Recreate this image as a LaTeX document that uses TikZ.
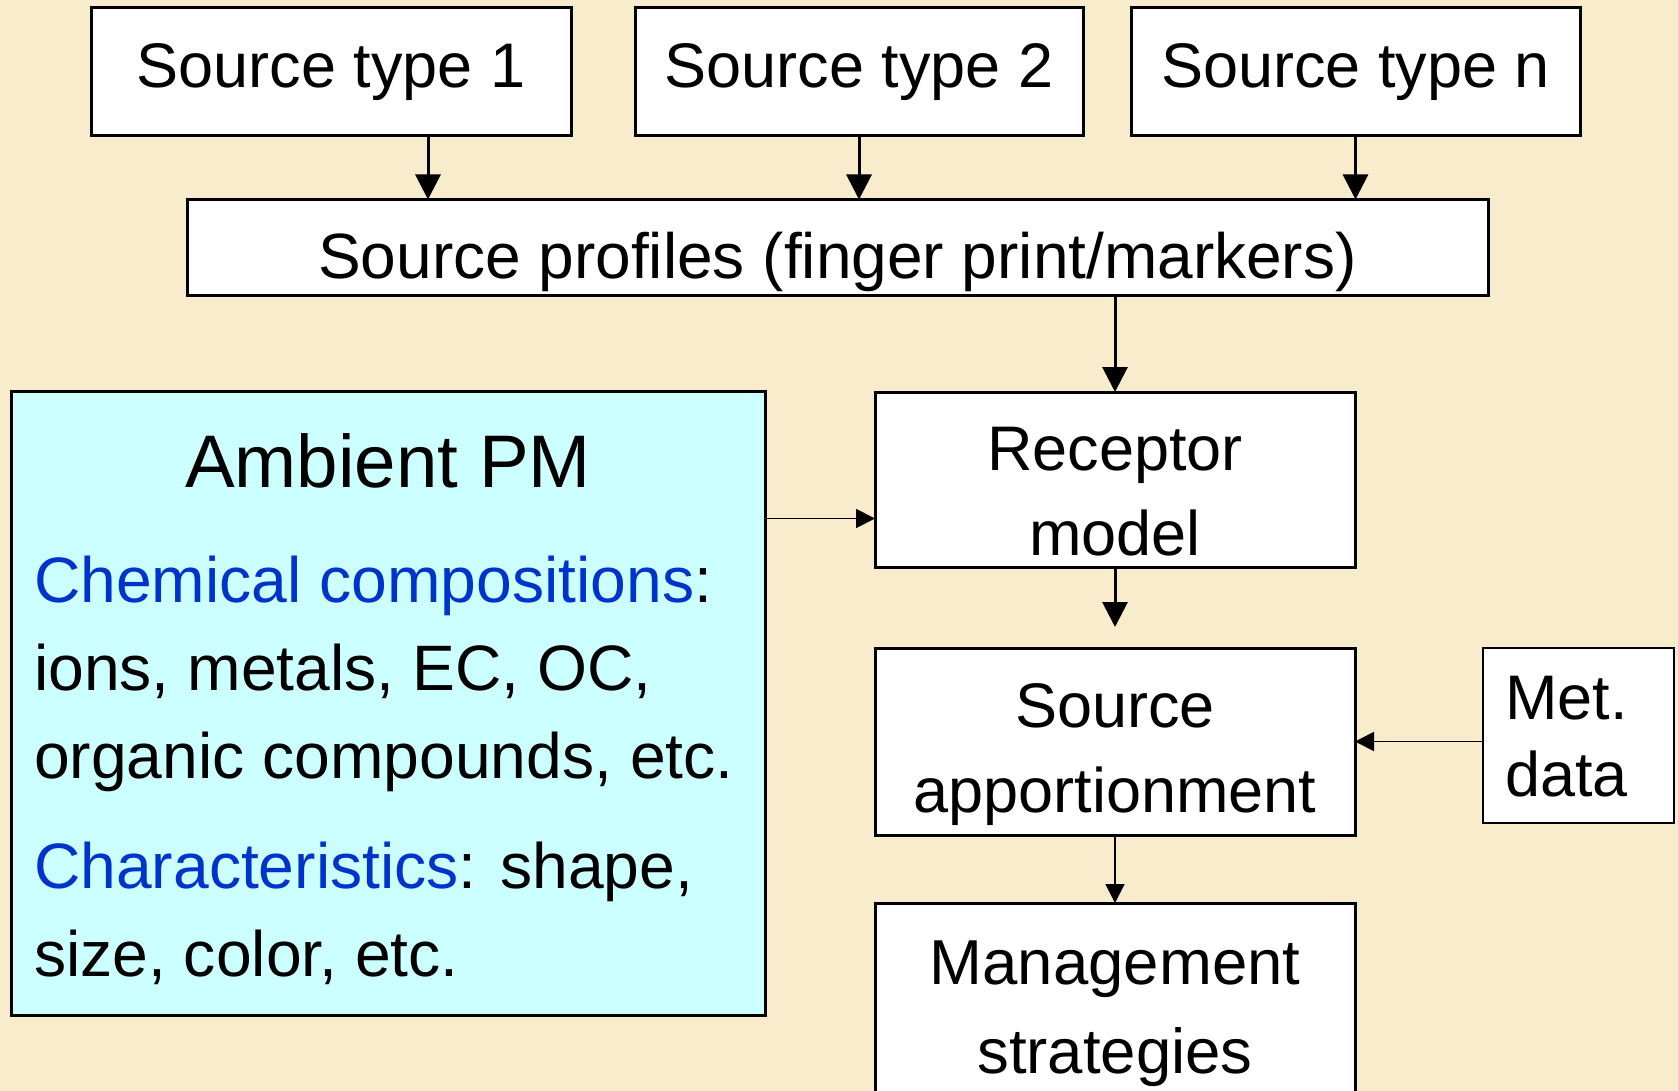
\documentclass[tikz,border=0pt]{standalone}
\usepackage{fontspec}
\setmainfont{Liberation Sans}
\usetikzlibrary{arrows.meta}
\definecolor{parchment}{RGB}{249,236,205}
\definecolor{pmcyan}{RGB}{204,255,255}
\definecolor{pmblue}{RGB}{0,51,204}

\begin{document}
\begin{tikzpicture}[x=1pt, y=-1pt,
  flowbox/.style={draw, fill=white, line width=3pt, inner sep=0pt, outer sep=0pt},
  txt/.style={inner sep=0pt, anchor=base, align=center, font=\fontsize{63}{85}\selectfont},
  bigarrow/.style={-{Triangle[width=25pt,length=25pt]}, line width=3pt},
  smallarrow/.style={-{Triangle[width=19pt,length=19pt]}, line width=1.8pt}]

\useasboundingbox (0,0) rectangle (1678,1091);
\clip (0,0) rectangle (1678,1091);
\fill[parchment] (0,0) rectangle (1678,1091);

% top row
\node[flowbox, minimum width=480pt, minimum height=128pt] (src1) at (331,72) {};
\node[flowbox, minimum width=448pt, minimum height=128pt] (src2) at (859,72) {};
\node[flowbox, minimum width=449pt, minimum height=128pt] (srcn) at (1355.5,72) {};
\node[txt] (src1txt) at (331,88) {Source type 1};
\node[txt] (src2txt) at (859,88) {Source type 2};
\node[txt] (srcntxt) at (1355.5,88) {Source type n};

\node[flowbox, minimum width=1301pt, minimum height=96pt] (prof) at (837.5,247.5) {};
\node[txt, font=\fontsize{64}{85}\selectfont] (proftxt) at (837.5,279) {Source profiles (finger print/markers)};

% right column (base = last line)
\node[flowbox, minimum width=480pt, minimum height=175pt] (rec) at (1115,479.5) {};
\node[txt] (rectxt) at (1115,555.7) {Receptor\\model};

\node[flowbox, minimum width=480pt, minimum height=187pt] (app) at (1115,741.5) {};
\node[txt] (apptxt) at (1115,812.7) {Source\\apportionment};

\node[flowbox, minimum width=480pt, minimum height=260pt] (mgmt) at (1115,1033) {};
\node[txt, font=\fontsize{63.5}{89}\selectfont] (mgmttxt) at (1115,1073) {Management\\strategies};

\node[flowbox, line width=2pt, minimum width=191pt, minimum height=175pt] (met) at (1578.5,735.5) {};
\node[txt, anchor=base west, align=left, font=\fontsize{63}{77}\selectfont] (mettxt) at (1505,796.7) {Met.\\data};

% ambient PM
\node[flowbox, fill=pmcyan, minimum width=754pt, minimum height=624pt] (amb) at (388,703.5) {};
\node[txt, font=\fontsize{74.5}{88}\selectfont] (ambtitle) at (388,487) {Ambient PM};
\node[txt, anchor=base west, align=left, font=\fontsize{64.2}{88}\selectfont] (ambbody) at (34,976)
  {\textcolor{pmblue}{Chemical compositions}:\\ions, metals, EC, OC,\\organic compounds, etc.\\[22pt]%
   \textcolor{pmblue}{Characteristics}: shape,\\size, color, etc.};

% connectors
\coordinate (s1out) at ([xshift=97pt]src1.south);
\draw[bigarrow] (s1out) -- (s1out |- prof.north);
\draw[bigarrow] (src2.south) -- (src2.south |- prof.north);
\draw[bigarrow] (srcn.south) -- (srcn.south |- prof.north);
\draw[bigarrow] (prof.south -| rec.north) -- (rec.north);
\coordinate (appgap) at ([yshift=21pt]app.north);
\draw[bigarrow] (rec.south) -- (appgap);
\draw[smallarrow] (app.south) -- (mgmt.north);
\coordinate (recin) at ([yshift=-39pt]rec.west);
\draw[smallarrow] (amb.east |- recin) -- (recin);
\draw[smallarrow] (met.west |- app.east) -- (app.east);
\end{tikzpicture}
\end{document}
